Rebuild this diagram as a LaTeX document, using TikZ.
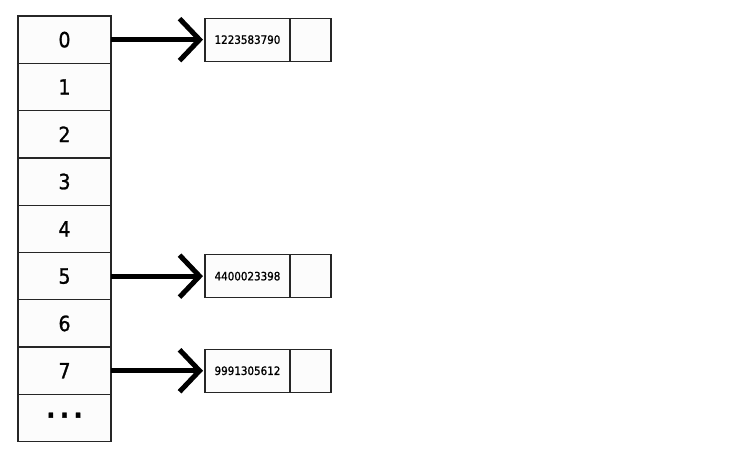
\documentclass[tikz,border=0pt]{standalone}
\usepackage{fontspec}
\setmainfont{DejaVu Sans Condensed}
\newfontfamily\labelfont[FakeBold=1.2]{DejaVu Sans Condensed}
\usetikzlibrary{positioning,arrows.meta,calc}

\begin{document}
\begin{tikzpicture}[x=1pt,y=-1pt,
    cell/.style={draw=black!85, fill=black!1, line width=1.3pt, outer sep=0pt,
      minimum width=93pt, minimum height=47.3pt, inner sep=0pt,
      font=\labelfont\fontsize{21}{21}\selectfont},
    keybox/.style={draw=black!85, fill=black!1, line width=1.3pt, outer sep=0pt,
      minimum width=85pt, minimum height=43pt, inner sep=0pt,
      font=\labelfont\fontsize{11.5}{11.5}\selectfont},
    ptrbox/.style={keybox, minimum width=41pt},
    link/.style={line width=5pt, -{Straight Barb[length=20pt,width=42pt]}, shorten >=2pt}]
        % Rahmen wie im Original
        \useasboundingbox (0,0) rectangle (737,459);
        \def\h{47.3}
        % Tabelle mit den Buckets
        \foreach \i in {0,...,7}
            \node[cell] (c\i) at (64.5, {16+\h*(\i+0.5)}) {\i};
        \node[cell] (c8) at (64.5, {16+\h*8.5})
            {\fontsize{26}{26}\selectfont\raisebox{.22em}{\bfseries .\hspace{.18em}.\hspace{.18em}.}};
        % Einträge (Schlüssel und Zeiger)
        \foreach \i/\k in {0/1223583790, 5/4400023398, 7/9991305612} {
            \node[keybox, right=94pt of c\i] (k\i) {\k};
            \node[ptrbox, right=0pt of k\i] (p\i) {};
            \draw[link] (c\i) -- (k\i);
        }
    \end{tikzpicture}
\end{document}
